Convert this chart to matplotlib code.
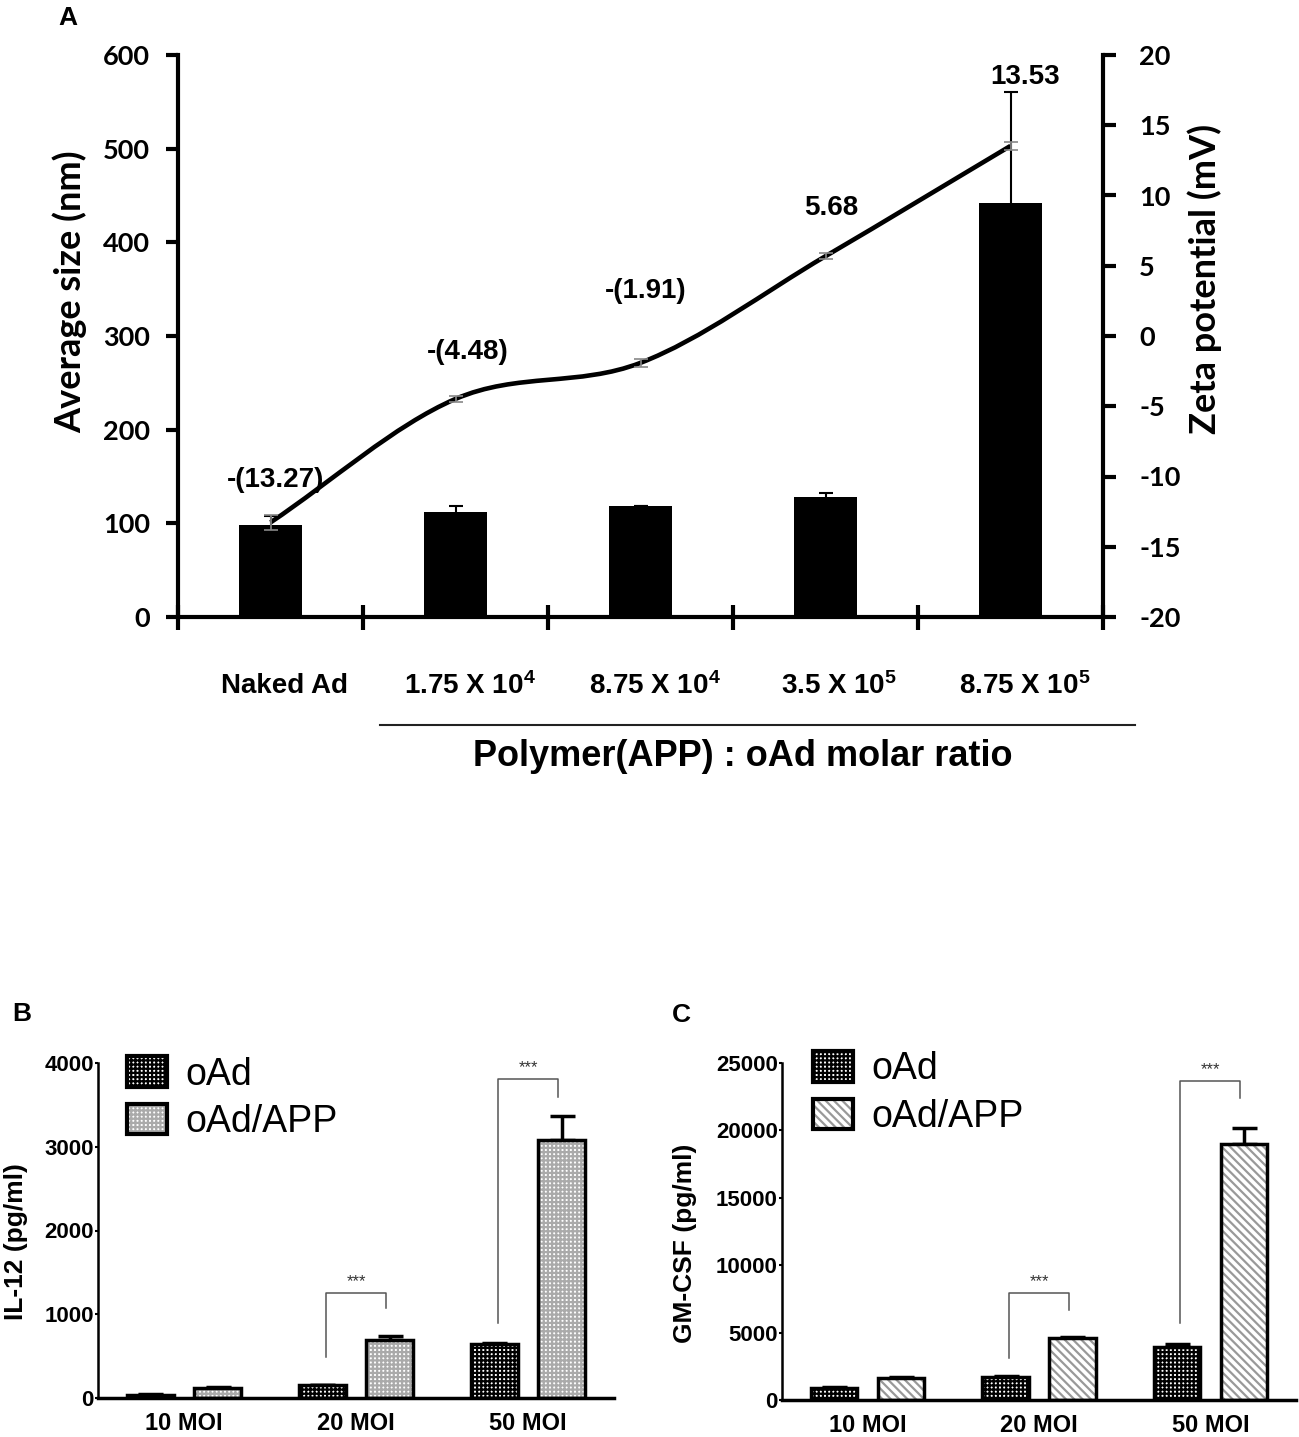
import numpy as np
import matplotlib
matplotlib.use('Agg')
import matplotlib.pyplot as plt
from matplotlib.patches import Patch, PathPatch
from matplotlib.path import Path
from matplotlib.lines import Line2D
import matplotlib.transforms as mtrans

plt.rcParams['font.family'] = ['Liberation Sans', 'DejaVu Sans']
plt.rcParams['mathtext.fontset'] = 'custom'
plt.rcParams['mathtext.rm'] = 'Liberation Sans:bold'
plt.rcParams['mathtext.it'] = 'Liberation Sans:bold'
plt.rcParams['mathtext.bf'] = 'Liberation Sans:bold'
plt.rcParams['axes.unicode_minus'] = False
plt.rcParams['hatch.linewidth'] = 1.6

# panel A data
ratio_labels = ['Naked Ad', r'1.75 X 10$^4$', r'8.75 X 10$^4$', r'3.5 X 10$^5$', r'8.75 X 10$^5$']
size_nm = [98, 112, 119, 128, 442]
size_err = [10, 6, 0, 4, 118]
zeta_mv = [-13.27, -4.48, -1.91, 5.68, 13.53]
zeta_err = [0.55, 0.2, 0.3, 0.2, 0.3]
zeta_offsets = [(5, -42), (12, -47), (5, -72), (6, -48), (15, -69)]  # label offsets, px

# panels B and C data
moi_labels = ['10 MOI', '20 MOI', '50 MOI']
il12_oad = [40, 150, 640]
il12_oad_err = [5, 10, 20]
il12_app = [120, 690, 3080]
il12_app_err = [10, 50, 290]
gmcsf_oad = [900, 1700, 3900]
gmcsf_oad_err = [60, 80, 270]
gmcsf_app = [1600, 4600, 19000]
gmcsf_app_err = [80, 100, 1150]
il12_brackets = [(1, 490, 1254, 1075), (2, 900, 3810, 3600)]
gmcsf_brackets = [(1, 3100, 7930, 6680), (2, 5700, 23650, 22400)]

W, H = 1299, 1437
fig = plt.figure(figsize=(W / 100, H / 100), dpi=100)


def fx(px):
    return px / W


def fy(py):
    return 1 - py / H


def box(l, t, r, b):
    return [fx(l), fy(b), (r - l) / W, (b - t) / H]


# ---------------- panel A ----------------
axA = fig.add_axes(box(178, 55, 1103, 617))
x = np.arange(len(size_nm))
axA.bar(x, size_nm, width=0.345, color='black', zorder=2,
        yerr=size_err, error_kw=dict(ecolor='black', elinewidth=1.5, capsize=5, capthick=1.5))
axA.set_xlim(-0.5, 4.5)
axA.set_ylim(0, 600)
axA.set_yticks(range(0, 601, 100))
axA.set_xticks(np.arange(-0.5, 4.6, 1))
axA.set_xticklabels([])
axA.set_xticks(x, minor=True)
axA.set_xticklabels(ratio_labels, minor=True, fontsize=20, fontweight='bold')
axA.tick_params(axis='x', which='major', direction='inout', length=18, width=3)
axA.tick_params(axis='x', which='minor', length=0, pad=40)
axA.tick_params(axis='y', direction='out', length=9, width=3, pad=11)
shift = mtrans.ScaledTranslation(14 / 100, 0, fig.dpi_scale_trans)
for lab in axA.get_xticklabels(minor=True):
    lab.set_transform(lab.get_transform() + shift)
for lab in axA.get_yticklabels():
    lab.set_fontfamily('Lato')
    lab.set_fontweight('bold')
    lab.set_fontsize(19.5)
for s in ['left', 'bottom']:
    axA.spines[s].set_linewidth(3)
axA.spines['top'].set_visible(False)
axA.spines['right'].set_visible(False)

ax2 = axA.twinx()
ax2.set_ylim(-20, 20)
ax2.set_yticks(range(-20, 21, 5))
ax2.tick_params(axis='y', direction='out', length=9, width=3, pad=17)
for lab in ax2.get_yticklabels():
    lab.set_fontfamily('Lato')
    lab.set_fontweight('bold')
    lab.set_fontsize(19.5)
for s in ['top', 'left', 'bottom']:
    ax2.spines[s].set_visible(False)
ax2.spines['right'].set_linewidth(3)

# smooth line through the zeta points (Catmull-Rom as cubic Bezier)
pts = np.column_stack([x, zeta_mv]).astype(float)
tang = np.zeros_like(pts)
tang[1:-1] = (pts[2:] - pts[:-2]) / 2
tang[0] = pts[1] - pts[0]
tang[-1] = pts[-1] - pts[-2]
verts = [pts[0]]
codes = [Path.MOVETO]
for i in range(len(pts) - 1):
    verts += [pts[i] + tang[i] / 3, pts[i + 1] - tang[i + 1] / 3, pts[i + 1]]
    codes += [Path.CURVE4] * 3
ax2.add_patch(PathPatch(Path(verts, codes), facecolor='none', edgecolor='black',
                        lw=3.3, transform=ax2.transData, zorder=3))
ax2.errorbar(x, zeta_mv, yerr=zeta_err, fmt='none', ecolor='#888888',
             elinewidth=1.2, capsize=5, capthick=1.2, zorder=4)
for xi, v, (dx, dy) in zip(x, zeta_mv, zeta_offsets):
    txt = '-(%.2f)' % abs(v) if v < 0 else '%.2f' % v
    ax2.annotate(txt, (xi, v), xytext=(dx, -dy), textcoords='offset pixels',
                 ha='center', va='center', fontsize=20, fontweight='bold')

fig.text(fx(68), fy(18), 'A', fontsize=19, fontweight='bold', ha='center', va='center')
fig.text(fx(70), fy(292), 'Average size (nm)', rotation=90, ha='center', va='center',
         family='Lato', fontweight='bold', fontsize=26)
fig.text(fx(1205), fy(279), 'Zeta potential (mV)', rotation=90, ha='center', va='center',
         family='Lato', fontweight='bold', fontsize=26)
fig.add_artist(Line2D([fx(380), fx(1135)], [fy(725), fy(725)], transform=fig.transFigure,
                      color='#222222', lw=1.5))
fig.text(fx(743), fy(757), 'Polymer(APP) : oAd molar ratio', ha='center', va='center',
         fontsize=26, fontweight='bold')


# ---------------- panels B and C ----------------
def cytokine_panel(ax, oad, oad_err, app, app_err, app_hatch, app_color, ymax, ystep,
                   brackets, leg_anchor):
    xs = np.arange(len(moi_labels))
    off, w = 0.195, 0.27
    for pos, vals, errs, hatch, hc in [(xs - off, oad, oad_err, '++++', 'black'),
                                       (xs + off, app, app_err, app_hatch, app_color)]:
        ax.errorbar(pos, vals, yerr=[np.zeros(len(errs)), errs], fmt='none', ecolor='black',
                    elinewidth=2.5, capsize=9, capthick=2.5, zorder=1)
        ax.bar(pos, vals, w, color='white', edgecolor=hc, hatch=hatch, lw=0, zorder=2)
        ax.bar(pos, vals, w, fill=False, edgecolor='black', lw=2.5, zorder=3)
    for g, yl, yt, yr in brackets:
        ax.plot([g - 0.175, g - 0.175, g + 0.175, g + 0.175], [yl, yt, yt, yr],
                color='#555555', lw=1.1, zorder=4)
        ax.annotate('***', (g, yt), xytext=(0, 3), textcoords='offset points',
                    ha='center', va='bottom', fontsize=12, color='#333333')
    ax.set_xlim(-0.5, 2.5)
    ax.set_ylim(0, ymax)
    ax.set_yticks(np.arange(0, ymax + 1, ystep))
    ax.set_xticks(xs)
    ax.set_xticklabels(moi_labels, fontsize=17, fontweight='bold')
    for lab in ax.get_yticklabels():
        lab.set_fontweight('bold')
        lab.set_fontsize(16)
    ax.tick_params(axis='x', length=0, pad=10)
    ax.tick_params(axis='y', length=2, width=1.5, pad=1)
    ax.spines['top'].set_visible(False)
    ax.spines['right'].set_visible(False)
    ax.spines['left'].set_linewidth(1.8)
    ax.spines['bottom'].set_linewidth(2.5)
    handles = [(Patch(facecolor='white', edgecolor='black', hatch='++++', lw=0),
                Patch(facecolor='none', edgecolor='black', lw=3)),
               (Patch(facecolor='white', edgecolor=app_color, hatch=app_hatch, lw=0),
                Patch(facecolor='none', edgecolor='black', lw=3))]
    ax.legend(handles, ['oAd', 'oAd/APP'], loc='upper left', bbox_to_anchor=leg_anchor,
              frameon=False, fontsize=27, handlelength=1.07, handleheight=0.88,
              handletextpad=0.5, labelspacing=0.3, borderpad=0, borderaxespad=0)


axB = fig.add_axes(box(98, 1063, 614, 1398))
cytokine_panel(axB, il12_oad, il12_oad_err, il12_app, il12_app_err, '++++', '#aaaaaa',
               4000, 1000, il12_brackets, (0.056, 1.02))
axC = fig.add_axes(box(782, 1063, 1296, 1400))
cytokine_panel(axC, gmcsf_oad, gmcsf_oad_err, gmcsf_app, gmcsf_app_err, '\\\\\\\\', '#999999',
               25000, 5000, gmcsf_brackets, (0.06, 1.035))

fig.text(fx(22), fy(1014), 'B', fontsize=19, fontweight='bold', ha='center', va='center')
fig.text(fx(681), fy(1015), 'C', fontsize=19, fontweight='bold', ha='center', va='center')
fig.text(fx(16), fy(1242), 'IL-12 (pg/ml)', rotation=90, ha='center', va='center',
         fontsize=19, fontweight='bold')
fig.text(fx(685), fy(1243), 'GM-CSF (pg/ml)', rotation=90, ha='center', va='center',
         fontsize=19, fontweight='bold')

fig.savefig('out.png', dpi=100)
